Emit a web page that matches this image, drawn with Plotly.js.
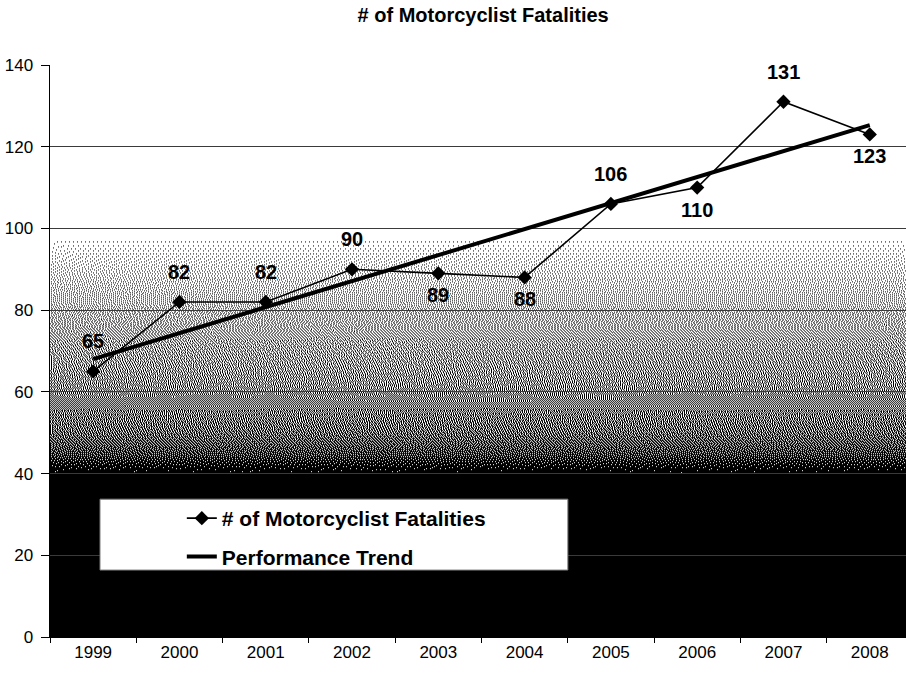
<!DOCTYPE html>
<html>
<head>
<meta charset="utf-8">
<script src="https://cdn.plot.ly/plotly-3.0.1.min.js"></script>
<style>html,body{margin:0;padding:0;background:#fff;}#chart{width:906px;height:675px;}</style>
</head>
<body>
<div id="chart"></div>
<script>
// ---- data ----
var years = ['1999','2000','2001','2002','2003','2004','2005','2006','2007','2008'];
var fatalities = [65, 82, 82, 90, 89, 88, 106, 110, 131, 123];
var labelPlacement = ['above','above','above','above','below','below','above','below','above','below'];
var trendYears = ['1999','2008'];
var trendValues = [68, 125.3];
var yTicks = [0, 20, 40, 60, 80, 100, 120, 140];

// ---- background gradient (white -> dotted grey -> black), drawn on a canvas ----
var xRange = [-0.5, 9.42];
var gradTop = 100, gradBottom = 0;
var darkStops = [[100,0.0],[97,0.04],[90,0.16],[80,0.28],[70,0.38],[60,0.47],[50,0.6],[45,0.74],[42,0.9],[40,1.0],[0,1.0]];
function darkness(v){
  for (var i=0;i<darkStops.length-1;i++){
    var a=darkStops[i], b=darkStops[i+1];
    if (v<=a[0] && v>=b[0]){ var t=(a[0]-v)/(a[0]-b[0]); return a[1]+(b[1]-a[1])*t; }
  }
  return v>100?0:1;
}
function makeBg(w,h){
  var c=document.createElement('canvas'); c.width=w; c.height=h;
  var ctx=c.getContext('2d'); var img=ctx.createImageData(w,h);
  var buf=new Float32Array(w*h);
  for (var r=0;r<h;r++){
    var v = gradTop - (r+0.5)/h*(gradTop-gradBottom);
    var g = 1-darkness(v);
    for (var q=0;q<w;q++) buf[r*w+q]=g;
  }
  for (var r2=0;r2<h;r2++){
    for (var q2=0;q2<w;q2++){
      var i=r2*w+q2, val=buf[i], out=val>0.5?1:0, e=val-out;
      if (q2+1<w) buf[i+1]+=e*7/16;
      if (r2+1<h){
        if (q2>0) buf[i+w-1]+=e*3/16;
        buf[i+w]+=e*5/16;
        if (q2+1<w) buf[i+w+1]+=e*1/16;
      }
      var p=out?255:0; var k=i*4;
      img.data[k]=p; img.data[k+1]=p; img.data[k+2]=p; img.data[k+3]=255;
    }
  }
  ctx.putImageData(img,0,0);
  return c.toDataURL('image/png');
}
var bgSrc = makeBg(856, 409);

var font = 'Arial, "Liberation Sans", sans-serif';

var traces = [
  {
    x: years, y: fatalities, type: 'scatter', mode: 'lines+markers',
    name: '# of Motorcyclist Fatalities', legendgroup: 'a',
    line: {color: '#000', width: 1.6},
    marker: {symbol: 'diamond', size: 11, color: '#000'},
    hoverinfo: 'x+y'
  },
  {
    x: trendYears, y: trendValues, type: 'scatter', mode: 'lines',
    name: 'Performance Trend', legendgroup: 'b',
    line: {color: '#000', width: 4},
    hoverinfo: 'skip'
  }
];

// category axis: annotations use the category's serial number
var annotations = years.map(function(yr, i){
  var above = labelPlacement[i] === 'above';
  return {
    x: i, y: fatalities[i], xref: 'x', yref: 'y',
    text: '<b>' + fatalities[i] + '</b>', showarrow: false,
    xanchor: 'center', yanchor: 'middle',
    yshift: above ? 30 : -22,
    font: {family: font, size: 20, color: '#000'}
  };
});

var layout = {
  width: 906, height: 675,
  margin: {l: 50, r: 0, t: 65, b: 38},
  paper_bgcolor: '#fff', plot_bgcolor: '#fff',
  title: {
    text: '<b># of Motorcyclist Fatalities</b>',
    x: 0.506, xref: 'paper', xanchor: 'center',
    y: 0.978, yref: 'container', yanchor: 'middle',
    font: {family: font, size: 20, color: '#000'}
  },
  xaxis: {
    type: 'category', categoryarray: years, range: xRange,
    tickson: 'boundaries', ticks: 'outside', ticklen: 5, tickcolor: '#000', tickwidth: 1,
    showgrid: false, showline: true, linecolor: '#000', linewidth: 1,
    tickfont: {family: font, size: 17, color: '#000'},
    zeroline: false, fixedrange: true
  },
  yaxis: {
    range: [0, 140], tickvals: yTicks, ticktext: yTicks.map(String),
    ticks: 'outside', ticklen: 8, tickcolor: '#000', tickwidth: 1,
    showgrid: true, gridcolor: '#3a3a3a', gridwidth: 1,
    showline: true, linecolor: '#000', linewidth: 1.5,
    tickfont: {family: font, size: 17, color: '#000'},
    ticklabelstandoff: 4,
    zeroline: false, fixedrange: true
  },
  showlegend: true,
  legend: {
    x: 0.154, xanchor: 'left', y: 0.243, yanchor: 'top',
    bgcolor: 'rgba(0,0,0,0)', borderwidth: 0,
    traceorder: 'grouped', tracegroupgap: 8,
    font: {family: font, size: 21, color: '#000', weight: 'bold'}
  },
  images: [{
    source: bgSrc, xref: 'x', yref: 'y',
    x: xRange[0], sizex: xRange[1]-xRange[0],
    y: gradTop, sizey: gradTop-gradBottom,
    xanchor: 'left', yanchor: 'top', sizing: 'stretch', layer: 'below'
  }],
  shapes: [{
    type: 'rect', xref: 'paper', yref: 'paper',
    x0: 0.0584, x1: 0.605, y0: 0.117, y1: 0.241,
    fillcolor: '#fff', line: {color: '#777', width: 1}, layer: 'above'
  }],
  annotations: annotations
};

Plotly.newPlot('chart', traces, layout, {displayModeBar: false, staticPlot: true});
</script>
</body>
</html>
